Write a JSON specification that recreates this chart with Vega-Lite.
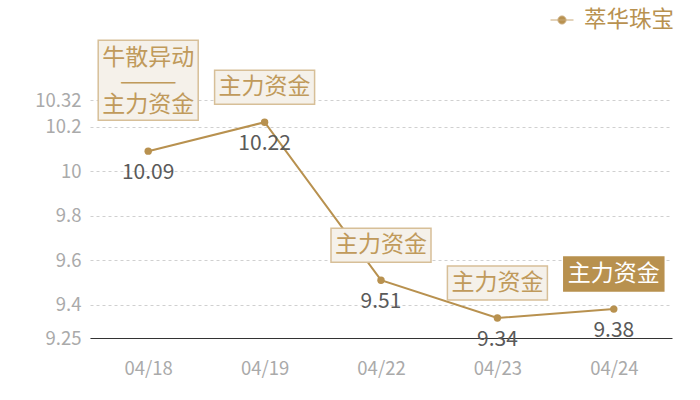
{
  "$schema": "https://vega.github.io/schema/vega-lite/v6.json",
  "autosize": {"type": "none"},
  "padding": {"left": 90, "top": 100, "right": 28, "bottom": 62},
  "width": 582,
  "height": 238,
  "config": {
    "font": "Noto Sans CJK SC",
    "view": {"stroke": null},
    "axis": {"labelFont": "Noto Sans CJK SC"},
    "legend": {"labelFont": "Noto Sans CJK SC"}
  },
  "data": {
    "values": [
      {"date": "04/18", "price": 10.09, "name": "萃华珠宝", "note": "牛散异动\n———\n主力资金", "kind": "double"},
      {"date": "04/19", "price": 10.22, "name": "萃华珠宝", "note": "主力资金", "kind": "single"},
      {"date": "04/22", "price": 9.51, "name": "萃华珠宝", "note": "主力资金", "kind": "single"},
      {"date": "04/23", "price": 9.34, "name": "萃华珠宝", "note": "主力资金", "kind": "single"},
      {"date": "04/24", "price": 9.38, "name": "萃华珠宝", "note": "主力资金", "kind": "single"}
    ]
  },
  "encoding": {
    "x": {
      "field": "date", "type": "ordinal",
      "scale": {"type": "point", "padding": 0.5},
      "axis": {
        "title": null, "labelAngle": 0, "ticks": false, "grid": false,
        "domain": true, "domainColor": "#333333", "domainWidth": 1,
        "labelColor": "#aaaaaa", "labelFontSize": 18.5, "labelPadding": 21
      }
    },
    "y": {
      "field": "price", "type": "quantitative",
      "scale": {"domain": [9.25, 10.32], "nice": false, "zero": false},
      "axis": {
        "title": null, "values": [9.25, 9.4, 9.6, 9.8, 10, 10.2, 10.32],
        "labelExpr": "format(datum.value, '~g')",
        "domain": false, "ticks": false, "grid": true,
        "gridColor": "#d0d0d0", "gridDash": [3, 3], "gridWidth": 1,
        "labelColor": "#aaaaaa", "labelFontSize": 18.5, "labelPadding": 9
      }
    }
  },
  "layer": [
    {
      "mark": {"type": "line", "strokeWidth": 2, "color": "#b8914f"}
    },
    {
      "mark": {"type": "point", "filled": true, "opacity": 1, "size": 55},
      "encoding": {
        "color": {
          "field": "name", "type": "nominal",
          "scale": {"range": ["#b8914f"]},
          "legend": {
            "title": null, "orient": "none", "legendX": 460, "legendY": -92,
            "labelFontSize": 22.5, "labelColor": "#b8914f", "labelOffset": 10,
            "symbolType": "M-1,0H1M-0.35,0A0.35,0.35 0 1,0 0.35,0A0.35,0.35 0 1,0 -0.35,0Z",
            "symbolSize": 529, "symbolStrokeWidth": 1, "symbolFillColor": "#b8914f",
            "symbolStrokeColor": "#c8a877", "symbolOpacity": 1
          }
        }
      }
    },
    {
      "mark": {"type": "text", "dy": 22, "fontSize": 21, "color": "#5a5a5a", "baseline": "middle"},
      "encoding": {"text": {"field": "price", "type": "quantitative", "format": ".2f"}}
    },
    {
      "transform": [{"filter": "datum.kind == 'single'"}],
      "mark": {"type": "rect", "xOffset": -50, "x2Offset": 50, "yOffset": -52, "y2Offset": -18, "strokeWidth": 1.5},
      "encoding": {
        "x2": {"field": "date"},
        "y2": {"field": "price"},
        "fill": {"condition": {"test": "datum.date == '04/24'", "value": "#b8914f"}, "value": "#f5f1ea"},
        "stroke": {"condition": {"test": "datum.date == '04/24'", "value": "#b8914f"}, "value": "#d7bf98"}
      }
    },
    {
      "transform": [{"filter": "datum.kind == 'single'"}],
      "mark": {"type": "text", "dy": -35, "fontSize": 23, "baseline": "middle"},
      "encoding": {
        "text": {"field": "note"},
        "color": {"condition": {"test": "datum.date == '04/24'", "value": "#ffffff"}, "value": "#c09a5b"}
      }
    },
    {
      "transform": [{"filter": "datum.kind == 'double'"}],
      "mark": {"type": "rect", "xOffset": -50, "x2Offset": 50, "yOffset": -111, "y2Offset": -31, "fill": "#f5f1ea", "stroke": "#d7bf98", "strokeWidth": 1.5},
      "encoding": {
        "x2": {"field": "date"},
        "y2": {"field": "price"}
      }
    },
    {
      "transform": [{"filter": "datum.kind == 'double'"}],
      "mark": {"type": "text", "dy": -93, "fontSize": 23, "baseline": "middle", "lineBreak": "\n", "lineHeight": 23.5, "color": "#c09a5b"},
      "encoding": {"text": {"field": "note"}}
    }
  ]
}
